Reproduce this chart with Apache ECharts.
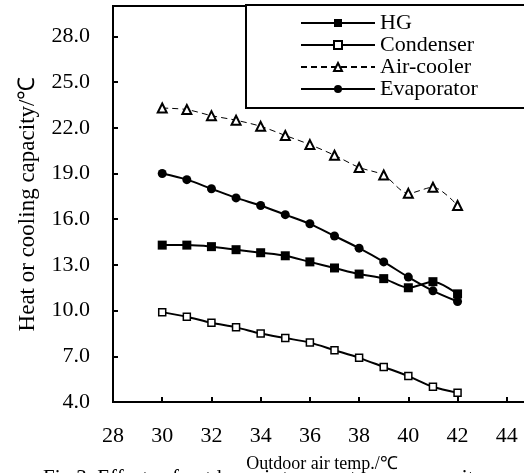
<!DOCTYPE html>
<html>
<head>
<meta charset="utf-8">
<script src="https://cdn.jsdelivr.net/npm/echarts@6/dist/echarts.min.js"></script>
<style>
  html, body { margin: 0; padding: 0; background: #fff; }
  #main { width: 524px; height: 473px; }
</style>
</head>
<body>
<div id="main"></div>
<script>
// 数据
var temps = [30, 31, 32, 33, 34, 35, 36, 37, 38, 39, 40, 41, 42];
var hg = [14.3, 14.3, 14.2, 14.0, 13.8, 13.6, 13.2, 12.8, 12.4, 12.1, 11.5, 11.9, 11.1];
var condenser = [9.9, 9.6, 9.2, 8.9, 8.5, 8.2, 7.9, 7.4, 6.9, 6.3, 5.7, 5.0, 4.6];
var airCooler = [23.3, 23.2, 22.8, 22.5, 22.1, 21.5, 20.9, 20.2, 19.4, 18.9, 17.7, 18.1, 16.9];
var evaporator = [19.0, 18.6, 18.0, 17.4, 16.9, 16.3, 15.7, 14.9, 14.1, 13.2, 12.2, 11.3, 10.6];
var seriesNames = ['HG', 'Condenser', 'Air-cooler', 'Evaporator'];

var font = 'Liberation Serif, Times New Roman, serif';

function pairs(vals) {
  var out = [];
  for (var i = 0; i < temps.length; i++) {
    out.push([temps[i], vals[i]]);
  }
  return out;
}

var chart = echarts.init(document.getElementById('main'));

var option = {
  backgroundColor: '#fff',
  animation: false,
  grid: {
    left: 113,
    top: 6,
    right: -32,
    bottom: 71,
    outerBoundsMode: 'none',
    show: true,
    borderColor: '#000',
    borderWidth: 2
  },
  legend: {
    orient: 'vertical',
    left: 246,
    top: 5,
    data: seriesNames,
    itemWidth: 74,
    itemHeight: 10,
    itemGap: 0,
    padding: [7, 160, 8, 54],
    backgroundColor: '#fff',
    borderColor: '#000',
    borderWidth: 2,
    textStyle: { fontFamily: font, fontSize: 22, color: '#000', lineHeight: 22 }
  },
  xAxis: {
    type: 'value',
    min: 28,
    max: 46,
    interval: 2,
    splitLine: { show: false },
    axisLine: { lineStyle: { color: '#000', width: 2 } },
    axisTick: { inside: true, length: 5, lineStyle: { color: '#000', width: 2 } },
    axisLabel: { margin: 23, fontFamily: font, fontSize: 22, color: '#000', showMaxLabel: false },
    name: 'Outdoor air temp./℃',
    nameLocation: 'middle',
    nameGap: 53,
    nameTextStyle: { fontFamily: font, fontSize: 18, color: '#000', padding: [0, 25, 0, 0] }
  },
  yAxis: {
    type: 'value',
    min: 4,
    max: 30,
    interval: 3,
    splitLine: { show: false },
    axisLine: { show: true, lineStyle: { color: '#000', width: 2 } },
    axisTick: { show: true, inside: true, length: 5, lineStyle: { color: '#000', width: 2 } },
    axisLabel: {
      margin: 23, fontFamily: font, fontSize: 22, color: '#000',
      showMaxLabel: false,
      formatter: function (v) { return v.toFixed(1); }
    },
    name: 'Heat or cooling capacity/℃',
    nameLocation: 'middle',
    nameGap: 74,
    nameTextStyle: { fontFamily: font, fontSize: 23, color: '#000' }
  },
  graphic: [{
    type: 'text',
    left: 43,
    top: 468,
    z: -1,
    style: {
      text: 'Fig.3. Effects of outdoor air temperature on capacity',
      font: '21px ' + font,
      fill: '#000'
    }
  }],
  series: [{
    name: 'HG',
    type: 'line',
    smooth: 0.3,
    data: pairs(hg),
    symbol: 'rect',
    symbolSize: 9,
    lineStyle: { color: '#000', width: 2 },
    itemStyle: { color: '#000' }
  }, {
    name: 'Condenser',
    type: 'line',
    smooth: 0.3,
    data: pairs(condenser),
    symbol: 'rect',
    symbolSize: 7,
    lineStyle: { color: '#000', width: 2 },
    itemStyle: { color: '#fff', borderColor: '#000', borderWidth: 1.5 }
  }, {
    name: 'Air-cooler',
    type: 'line',
    smooth: 0.3,
    data: pairs(airCooler),
    symbol: 'triangle',
    symbolSize: 9,
    lineStyle: { color: '#000', width: 1, type: [6, 4] },
    itemStyle: { color: '#fff', borderColor: '#000', borderWidth: 2 }
  }, {
    name: 'Evaporator',
    type: 'line',
    smooth: 0.3,
    data: pairs(evaporator),
    symbol: 'circle',
    symbolSize: 9,
    lineStyle: { color: '#000', width: 2 },
    itemStyle: { color: '#000' }
  }]
};

chart.setOption(option);
</script>
</body>
</html>
